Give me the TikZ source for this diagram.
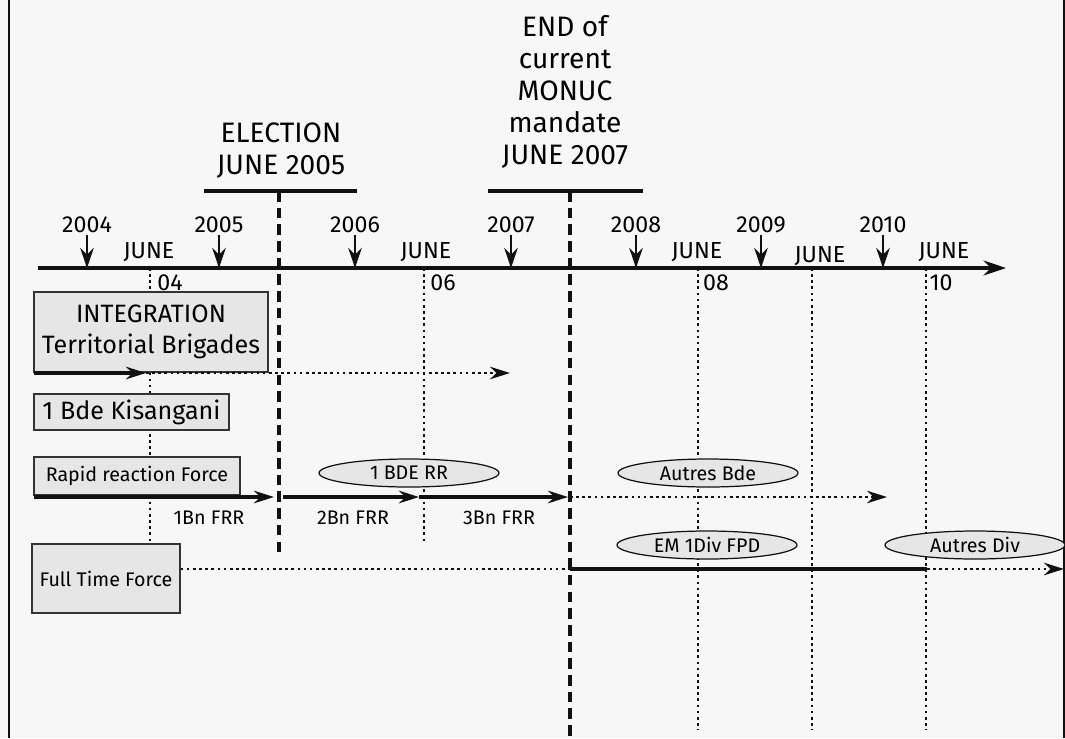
\documentclass[tikz,border=0pt]{standalone}
\usepackage{fontspec}
\setmainfont{Fira Sans}
\usepackage{tikz}
\usepackage{xcolor}
\usetikzlibrary{arrows.meta,positioning,shapes.geometric,calc}
\definecolor{sheet}{HTML}{F7F7F7}
\definecolor{boxgray}{HTML}{E6E6E6}
\definecolor{ink}{HTML}{111111}
\definecolor{edge}{HTML}{333333}
\newcommand{\titlefont}{\fontsize{16}{18.2}\selectfont}
\newcommand{\bigfont}{\fontsize{14.3}{18}\selectfont}
\newcommand{\midfont}{\fontsize{13.2}{15}\selectfont}
\newcommand{\smallfont}{\fontsize{11.2}{13}\selectfont}
\tikzset{
  unitbox/.style={draw=edge,fill=boxgray,line width=0.8pt,align=center,
                  inner sep=2pt,font=\bigfont},
  smallbox/.style={unitbox,font=\smallfont},
  oval/.style={ellipse,draw=ink,fill=boxgray,line width=0.7pt,inner sep=0pt,
               minimum width=3.6cm,minimum height=0.56cm,font=\smallfont},
  yearlab/.style={font=\midfont,inner sep=1pt,anchor=south},
  junelab/.style={font=\midfont,inner sep=0pt},
  numlab/.style={font=\midfont,inner sep=0pt},
  frrlab/.style={font=\smallfont,inner sep=0pt},
  headline/.style={font=\titlefont,align=center,inner sep=0pt},
  axisarr/.style={-{Stealth[length=4.5mm,width=3mm]},line width=1.8pt,draw=ink},
  yeararr/.style={-{Stealth[length=4mm,width=2.7mm]},line width=1.2pt,draw=ink},
  solidarr/.style={-{Stealth[length=4mm,width=2.5mm]},line width=1.8pt,draw=ink},
  solidline/.style={line width=1.8pt,draw=ink},
  dotline/.style={line width=1.5pt,dash pattern=on 1.5pt off 2pt,draw=ink},
  dotarr/.style={dotline,-{Stealth[length=4mm,width=2.5mm]}},
  markline/.style={line width=2pt,dash pattern=on 6pt off 3.5pt,draw=ink},
  bracket/.style={line width=1.8pt,draw=ink}
}
\begin{document}
\begin{tikzpicture}[x=0.02cm,y=-0.02cm]
    \path[use as bounding box,fill=sheet] (0,0) rectangle (1065,738);
    \draw[line width=1.2pt,draw=ink] (9,0) -- (9,738);
    \draw[line width=1.2pt,draw=ink] (1064,0) -- (1064,738);

    % June grid lines
    \foreach \jx/\jend/\jname in {150/543/j04,424/542/j06,
        698/730/j08,812/730/j09,926/730/j10}{
      \coordinate (\jname top) at (\jx,268);
      \coordinate (\jname bot) at (\jx,\jend);
      \draw[dotline] (\jname top) -- (\jname bot);
    }
    \node[junelab] (june04) at (149,252) {JUNE};
    \node[junelab] (june06) at (426,252) {JUNE};
    \node[junelab] (june08) at (697,252) {JUNE};
    \node[junelab] (june09) at (820,256) {JUNE};
    \node[junelab] (june10) at (944,252) {JUNE};
    \node[numlab] (num04) at (170,283) {04};
    \node[numlab] (num06) at (443,283) {06};
    \node[numlab] (num08) at (716,283) {08};
    \node[numlab] (num10) at (941,283) {10};

    % time axis
    \coordinate (axstart) at (38,268);
    \coordinate (axend) at (1006,268);
    \draw[axisarr] (axstart) -- (axend);

    \foreach \yx/\yr in {87/2004,219/2005,355/2006,511/2007,636/2008,761/2009,883/2010}{
      \node[yearlab] (y\yr) at (\yx,235) {\yr};
      \coordinate (a\yr) at (\yx,268);
      \draw[yeararr] (y\yr.south) -- (a\yr);
    }

    % milestones
    \node[headline] (elec) at (281,151) {ELECTION\\JUNE 2005};
    \coordinate (elecL) at (204,191);
    \coordinate (elecR) at (357,191);
    \coordinate (elecT) at (279,191);
    \coordinate (elecB) at (279,556);
    \draw[bracket] (elecL) -- (elecR);
    \draw[markline] (elecT) -- (elecB);

    \node[headline] (monuc) at (565,92)
      {END of\\current\\MONUC\\mandate\\JUNE 2007};
    \coordinate (monucL) at (488,191);
    \coordinate (monucR) at (643,191);
    \coordinate (monucT) at (570,191);
    \coordinate (monucB) at (570,738);
    \draw[bracket] (monucL) -- (monucR);
    \draw[markline] (monucT) -- (monucB);

    % units
    \node[unitbox,minimum width=4.68cm,minimum height=1.6cm] (integ) at (151,332)
      {INTEGRATION\\Territorial Brigades};
    \node[unitbox,minimum width=3.9cm,minimum height=0.72cm] (kisa) at (131.5,412)
      {1 Bde Kisangani};
    \node[smallbox,minimum width=4.12cm,minimum height=0.76cm] (rrf) at (137,476)
      {Rapid reaction Force};
    \node[smallbox,minimum width=2.96cm,minimum height=1.38cm] (ftf) at (106,578.5)
      {Full Time Force};

    \node[oval] (bderr) at (409,473) {1 BDE RR};
    \node[oval] (autbde) at (708,473) {Autres Bde};
    \node[oval] (emdiv) at (707,545) {EM 1Div FPD};
    \node[oval] (autdiv) at (975,545) {Autres Div};

    % integration track
    \coordinate (it0) at (34,373);
    \coordinate (it1) at (146,373);
    \coordinate (it2) at (510,373);
    \draw[solidarr] (it0) -- (it1);
    \draw[dotarr] (it1) -- (it2);

    % rapid reaction track
    \coordinate (rr0) at (34,497);
    \coordinate (rr1) at (274,497);
    \coordinate (rr2) at (283,497);
    \coordinate (rr3) at (419,497);
    \coordinate (rr4) at (568,497);
    \coordinate (rr5) at (570,497);
    \coordinate (rr6) at (887,497);
    \draw[solidarr] (rr0) -- (rr1);
    \draw[solidarr] (rr2) -- (rr3);
    \draw[solidarr] (rr3) -- (rr4);
    \draw[dotarr] (rr5) -- (rr6);
    \node[frrlab] (bn1) at (209,518) {1Bn FRR};
    \node[frrlab] (bn2) at (353,518) {2Bn FRR};
    \node[frrlab] (bn3) at (499,518) {3Bn FRR};

    % full time track
    \coordinate (ft1) at (570,569);
    \coordinate (ft2) at (927,569);
    \coordinate (ft3) at (1064,569);
    \draw[dotline] (ftf.east |- ft1) -- (ft1);
    \draw[solidline] (ft1) -- (ft2);
    \draw[dotarr] (ft2) -- (ft3);
  \end{tikzpicture}
\end{document}
